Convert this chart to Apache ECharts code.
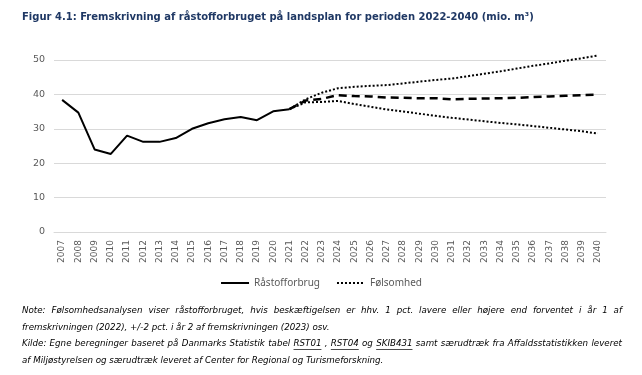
<!DOCTYPE html>
<html>
<head>
<meta charset="utf-8">
<script src="https://cdn.jsdelivr.net/npm/echarts@6/dist/echarts.min.js"></script>
<style>
  html, body { margin: 0; padding: 0; background: #fff; }
  #chart { width: 642px; height: 375px; }
</style>
</head>
<body>
<div id="chart"></div>
<script>
const years = ['2007','2008','2009','2010','2011','2012','2013','2014','2015','2016','2017',
  '2018','2019','2020','2021','2022','2023','2024','2025','2026','2027','2028','2029','2030',
  '2031','2032','2033','2034','2035','2036','2037','2038','2039','2040'];

// historisk 2007-2021
const raastofforbrug = [38.4, 34.7, 24.0, 22.7, 28.0, 26.2, 26.2, 27.3, 30.0, 31.6, 32.8, 33.4, 32.5, 35.1, 35.7];
// fremskrivning 2021-2040
const fremskrivning = [35.7, 38.2, 38.7, 39.8, 39.5, 39.4, 39.1, 39.0, 38.9, 38.9, 38.6, 38.7, 38.8, 38.9, 39.0, 39.2, 39.4, 39.6, 39.8, 39.9];
const foelsomHoej = [35.7, 38.6, 40.5, 41.8, 42.2, 42.5, 42.7, 43.2, 43.7, 44.2, 44.6, 45.3, 46.0, 46.7, 47.5, 48.3, 49.0, 49.8, 50.5, 51.3];
const foelsomLav = [35.7, 37.7, 37.8, 38.1, 37.2, 36.4, 35.6, 35.0, 34.4, 33.8, 33.2, 32.7, 32.2, 31.7, 31.3, 30.8, 30.3, 29.8, 29.3, 28.6];

const titleText = 'Figur 4.1: Fremskrivning af råstofforbruget på landsplan for perioden 2022-2040 (mio. m³)';
const noteLines = [
  'Note:  Følsomhedsanalysen viser råstofforbruget, hvis beskæftigelsen er hhv. 1 pct. lavere eller højere end forventet i år 1 af',
  'fremskrivningen (2022), +/-2 pct. i år 2 af fremskrivningen (2023) osv.',
  'Kilde: Egne beregninger baseret på Danmarks Statistik tabel RST01 , RST04  og SKIB431 samt særudtræk fra Affaldsstatistikken leveret',
  'af Miljøstyrelsen og særudtræk leveret af Center for Regional og Turismeforskning.'
];
const justified = [true, false, true, false];
const underlined = ['RST01', 'RST04', 'SKIB431'];

const startIdx = years.indexOf('2021');
const pad = (arr) => years.map((y, i) => (i < startIdx ? null : arr[i - startIdx]));

const chart = echarts.init(document.getElementById('chart'));

// notes as graphic text, word by word for the justified lines
const noteFont = 'italic 8.7px "DejaVu Sans"';
const ctx = document.createElement('canvas').getContext('2d');
ctx.font = noteFont;
const noteLeft = 22, noteRight = 622, noteTop = [311, 327.5, 344, 361];
const graphics = [{
  type: 'text', left: 22, top: 12,
  style: { text: titleText, font: 'bold 10px "DejaVu Sans"', fill: '#1f3864' }
}];
noteLines.forEach((line, li) => {
  const words = line.split(/\s+/);
  const widths = words.map(w => ctx.measureText(w).width);
  const total = widths.reduce((a, b) => a + b, 0);
  const gap = justified[li] ? (noteRight - noteLeft - total) / (words.length - 1) : ctx.measureText(' ').width;
  let x = noteLeft;
  words.forEach((w, wi) => {
    graphics.push({
      type: 'text', x: x, y: noteTop[li],
      style: { text: w, font: noteFont, fill: '#000', textVerticalAlign: 'middle' }
    });
    if (underlined.includes(w)) {
      graphics.push({
        type: 'line', shape: { x1: x, y1: noteTop[li] + 5.5, x2: x + widths[wi], y2: noteTop[li] + 5.5 },
        style: { stroke: '#000', lineWidth: 0.7 }
      });
    }
    x += widths[wi] + gap;
  });
});

chart.setOption({
  animation: false,
  textStyle: { fontFamily: 'DejaVu Sans' },
  grid: { left: 54, right: 36, top: 60, bottom: 143 },
  legend: {
    data: ['Råstofforbrug', 'Følsomhed'],
    top: 273, left: 'center',
    itemWidth: 28, itemHeight: 10, itemGap: 16,
    itemStyle: { opacity: 0 },
    textStyle: { color: '#595959', fontSize: 10, fontFamily: 'Noto Sans' }
  },
  xAxis: {
    type: 'category', data: years, boundaryGap: true,
    axisLine: { lineStyle: { color: '#d9d9d9' } },
    axisTick: { show: false },
    axisLabel: { rotate: 90, interval: 0, color: '#595959', fontSize: 9, margin: 8 }
  },
  yAxis: {
    type: 'value', min: 0, max: 50, interval: 10,
    axisLine: { show: false }, axisTick: { show: false },
    axisLabel: { color: '#595959', fontSize: 9.5, margin: 9 },
    splitLine: { lineStyle: { color: '#d9d9d9', width: 1 } }
  },
  series: [
    {
      name: 'Råstofforbrug', type: 'line', data: raastofforbrug, symbol: 'none', clip: false,
      lineStyle: { color: '#000', width: 2 }, itemStyle: { color: '#000' }
    },
    {
      name: 'Fremskrivning', type: 'line', data: pad(fremskrivning), symbol: 'none', clip: false,
      lineStyle: { color: '#000', width: 2.5, type: [8, 5] }, itemStyle: { color: '#000' }
    },
    {
      name: 'Følsomhed', type: 'line', data: pad(foelsomHoej), symbol: 'none', clip: false,
      lineStyle: { color: '#000', width: 2, type: [2, 2] }, itemStyle: { color: '#000' }
    },
    {
      name: 'Følsomhed', type: 'line', data: pad(foelsomLav), symbol: 'none', clip: false,
      lineStyle: { color: '#000', width: 2, type: [2, 2] }, itemStyle: { color: '#000' }
    }
  ],
  graphic: graphics
});
</script>
</body>
</html>
